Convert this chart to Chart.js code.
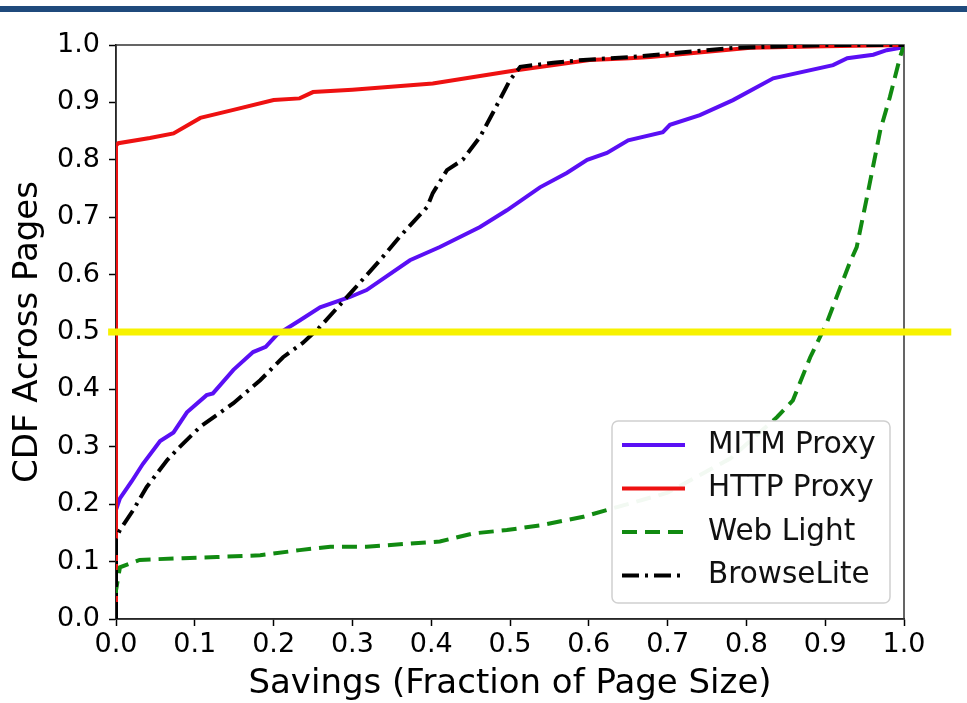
<!DOCTYPE html>
<html>
<head>
<meta charset="utf-8">
<script src="https://cdn.jsdelivr.net/npm/chart.js@4.4.0/dist/chart.umd.min.js"></script>
<style>
  body { margin: 0; background: #fff; }
  #band { position: absolute; left: 0; top: 6px; width: 967px; height: 6px; background: #1f4a7c; }
  #chart { position: absolute; left: 0; top: 0; }
</style>
</head>
<body>
<canvas id="chart" width="967" height="703"></canvas>
<div id="band"></div>
<script>
// values
const mitmX = [0, 0, 0.005, 0.02, 0.034, 0.056, 0.073, 0.09, 0.115, 0.123, 0.149, 0.174, 0.19, 0.204, 0.233, 0.259, 0.297, 0.318, 0.373, 0.411, 0.462, 0.496, 0.538, 0.572, 0.598, 0.623, 0.65, 0.694, 0.703, 0.741, 0.783, 0.834, 0.91, 0.928, 0.961, 0.978, 0.995, 1.0];
const mitmY = [0.17, 0.19, 0.21, 0.24, 0.27, 0.31, 0.325, 0.36, 0.39, 0.393, 0.434, 0.465, 0.474, 0.495, 0.52, 0.543, 0.561, 0.573, 0.625, 0.648, 0.683, 0.712, 0.752, 0.777, 0.80, 0.812, 0.834, 0.848, 0.861, 0.878, 0.904, 0.942, 0.965, 0.977, 0.983, 0.991, 0.995, 1.0];

const httpX = [0, 0, 0.003, 0.043, 0.073, 0.107, 0.149, 0.2, 0.233, 0.25, 0.3, 0.402, 0.508, 0.601, 0.652, 0.678, 0.805, 0.9, 1.0];
const httpY = [0, 0.825, 0.829, 0.838, 0.846, 0.873, 0.887, 0.904, 0.907, 0.918, 0.922, 0.933, 0.956, 0.974, 0.977, 0.979, 0.995, 0.998, 1.0];

const webLightX = [0, 0, 0.005, 0.03, 0.085, 0.128, 0.183, 0.233, 0.272, 0.318, 0.411, 0.453, 0.496, 0.538, 0.593, 0.631, 0.7, 0.78, 0.839, 0.859, 0.881, 0.902, 0.931, 0.94, 0.953, 0.97, 0.982, 0.995, 1.0];
const webLightY = [0, 0.05, 0.09, 0.103, 0.106, 0.108, 0.111, 0.12, 0.126, 0.126, 0.135, 0.149, 0.155, 0.163, 0.178, 0.193, 0.22, 0.28, 0.352, 0.381, 0.456, 0.516, 0.62, 0.648, 0.735, 0.852, 0.909, 0.979, 1.0];

const browseX = [0, 0, 0.005, 0.022, 0.039, 0.065, 0.081, 0.107, 0.149, 0.183, 0.212, 0.237, 0.259, 0.301, 0.335, 0.36, 0.395, 0.402, 0.42, 0.44, 0.462, 0.478, 0.5, 0.513, 0.555, 0.593, 0.652, 0.783, 0.9, 1.0];
const browseY = [0, 0.14, 0.155, 0.19, 0.23, 0.277, 0.30, 0.335, 0.376, 0.416, 0.456, 0.481, 0.509, 0.573, 0.625, 0.666, 0.718, 0.742, 0.782, 0.80, 0.84, 0.881, 0.939, 0.962, 0.969, 0.974, 0.979, 0.995, 1.0, 1.0];

// the highlighted 50% line runs a little past both axes
const markerX = [-0.01, 1.06];
const markerY = [0.5, 0.5];

const seriesNames = ["MITM Proxy", "HTTP Proxy", "Web Light", "BrowseLite"];

const FONT = "'DejaVu Sans', sans-serif";

function pts(xs, ys) {
  return xs.map((x, i) => ({ x: x, y: ys[i] }));
}

const series = [
  { label: seriesNames[0], data: pts(mitmX, mitmY), color: "#5a0ff5", dash: [], order: 4 },
  { label: seriesNames[1], data: pts(httpX, httpY), color: "#ee1111", dash: [], order: 3 },
  { label: seriesNames[2], data: pts(webLightX, webLightY), color: "#118a11", dash: [15, 8], order: 2 },
  { label: seriesNames[3], data: pts(browseX, browseY), color: "#000000", dash: [17, 6, 3, 6], order: 1 },
];

const datasets = series.map(s => ({
  label: s.label,
  data: s.data,
  borderColor: s.color,
  borderWidth: 4,
  borderDash: s.dash,
  showLine: true,
  pointRadius: 0,
  tension: 0,
  order: s.order,
}));

datasets.push({
  label: "marker",
  data: pts(markerX, markerY),
  borderColor: "#f7f200",
  borderWidth: 7,
  showLine: true,
  pointRadius: 0,
  clip: false,
  order: 0,
});

// box around plot area
const framePlugin = {
  id: "frame",
  beforeDatasetsDraw(chart) {
    const { ctx, chartArea: a } = chart;
    ctx.save();
    ctx.strokeStyle = "#333";
    ctx.lineWidth = 1.5;
    ctx.strokeRect(a.left, a.top, a.right - a.left, a.bottom - a.top);
    ctx.restore();
  }
};

// matplotlib style legend in lower right
const legendPlugin = {
  id: "boxLegend",
  afterDatasetsDraw(chart) {
    const { ctx, chartArea: a } = chart;
    const w = 278, h = 182;
    const x0 = a.right - 14 - w;
    const y0 = a.bottom - 16 - h;
    ctx.save();
    ctx.beginPath();
    ctx.roundRect(x0, y0, w, h, 6);
    ctx.fillStyle = "rgba(255,255,255,0.95)";
    ctx.fill();
    ctx.strokeStyle = "#d0d0d0";
    ctx.lineWidth = 1.5;
    ctx.stroke();
    ctx.font = "29.5px " + FONT;
    ctx.textBaseline = "middle";
    ctx.fillStyle = "#111";
    series.forEach((s, i) => {
      const cy = y0 + 24 + i * 43.5;
      ctx.beginPath();
      ctx.setLineDash(s.dash);
      ctx.strokeStyle = s.color;
      ctx.lineWidth = 4;
      ctx.moveTo(x0 + 10, cy);
      ctx.lineTo(x0 + 73, cy);
      ctx.stroke();
      ctx.setLineDash([]);
      ctx.fillText(s.label, x0 + 96, cy);
    });
    ctx.restore();
  }
};

new Chart(document.getElementById("chart"), {
  type: "scatter",
  data: { datasets: datasets },
  options: {
    responsive: false,
    animation: false,
    layout: { padding: { left: 0, top: 45, right: 63, bottom: 0 } },
    plugins: { legend: { display: false }, tooltip: { enabled: false } },
    scales: {
      x: {
        type: "linear",
        min: 0,
        max: 1,
        afterFit(scale) { scale.height = 84; },
        grid: { drawOnChartArea: false, drawTicks: true, tickLength: 7, tickColor: "#000", tickWidth: 1.5 },
        border: { color: "#000", width: 1.5 },
        ticks: { stepSize: 0.1, color: "#000", padding: 3, font: { family: FONT, size: 27 }, callback: v => v.toFixed(1) },
        title: { display: true, text: "Savings (Fraction of Page Size)", color: "#000", font: { family: FONT, size: 34, lineHeight: 1 }, padding: { top: 0, bottom: 2 } },
      },
      y: {
        type: "linear",
        min: 0,
        max: 1,
        afterFit(scale) { scale.width = 116; },
        grid: { drawOnChartArea: false, drawTicks: true, tickLength: 7, tickColor: "#000", tickWidth: 1.5 },
        border: { color: "#000", width: 1.5 },
        ticks: { stepSize: 0.1, color: "#000", padding: 9, font: { family: FONT, size: 27 }, callback: v => v.toFixed(1) },
        title: { display: true, text: "CDF Across Pages", color: "#000", font: { family: FONT, size: 34, lineHeight: 1 }, padding: { top: 11, bottom: 0 } },
      },
    },
  },
  plugins: [framePlugin, legendPlugin],
});
</script>
</body>
</html>
